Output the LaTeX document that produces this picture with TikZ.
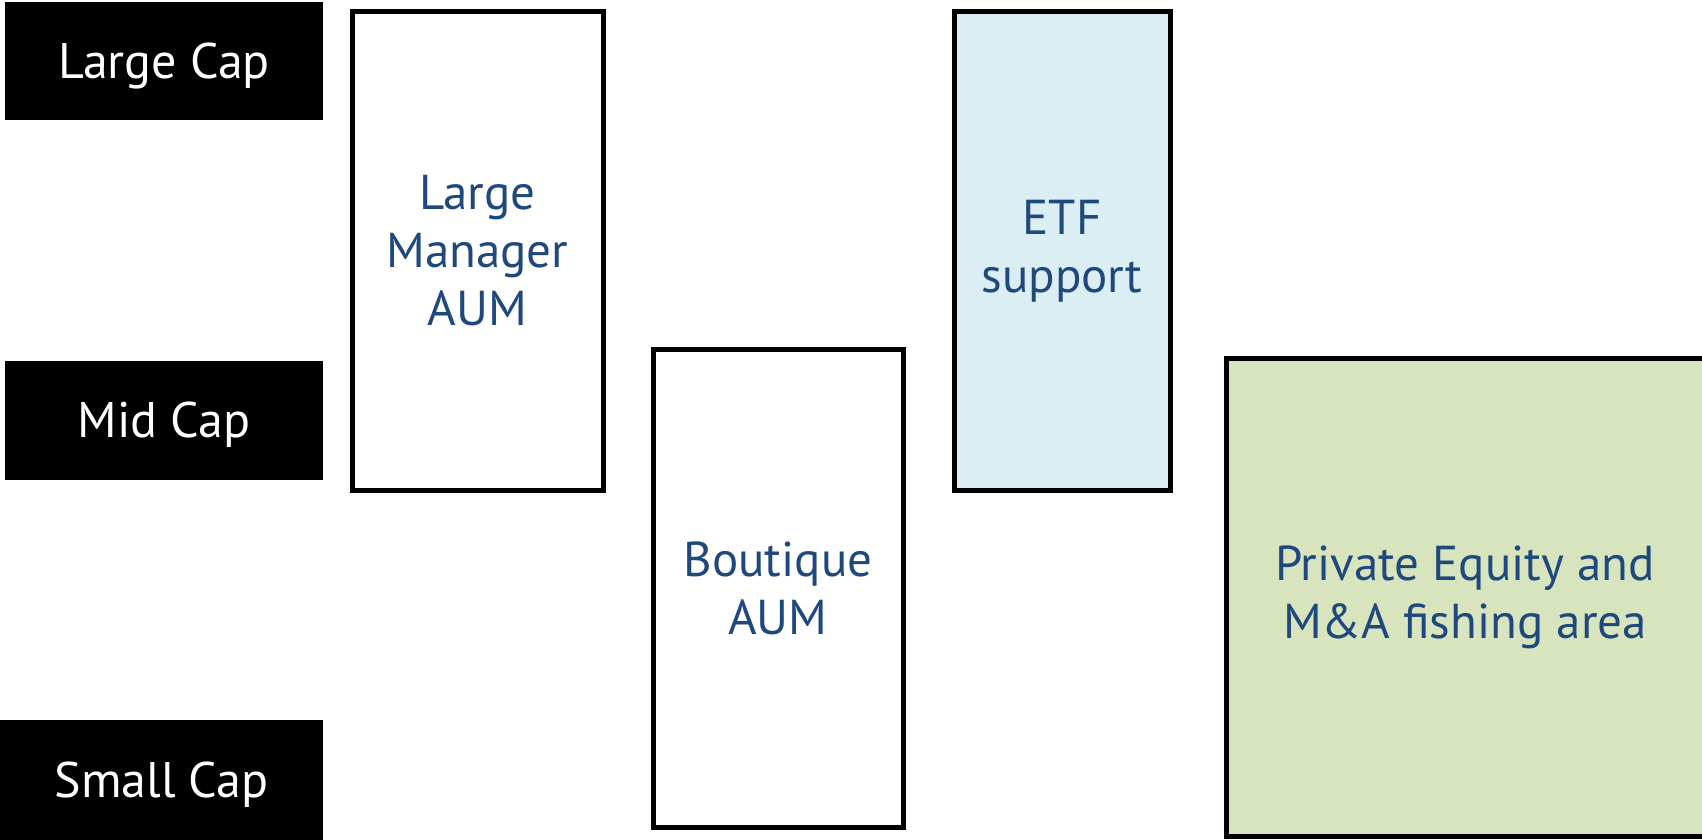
\documentclass[tikz,border=0pt]{standalone}
\usepackage{fontspec}
\setmainfont{PT Sans}
\definecolor{txtblue}{HTML}{1F497D}
\definecolor{etfblue}{HTML}{DAEEF3}
\definecolor{pegreen}{HTML}{D7E4BD}
\begin{document}
\begin{tikzpicture}[x=1pt,y=-1pt,
  capbox/.style={fill=black,text=white,inner sep=0pt,text depth=0pt,font=\fontsize{50}{58}\selectfont},
  segbox/.style={draw=black,line width=5pt,inner sep=0pt,align=center,text=txtblue,
    font=\fontsize{49}{58}\selectfont}]
\useasboundingbox (0,0) rectangle (1702,840);
\fill[white] (0,0) rectangle (1702,840);
\node[capbox,minimum width=318pt,minimum height=118pt] (large) at (164,61) {Large Cap};
\node[capbox,minimum width=318pt,minimum height=119pt] (mid) at (164,420) {Mid Cap};
\node[capbox,minimum width=323pt,minimum height=120pt] (small) at (161.5,780) {Small Cap};
\node[segbox,fill=white,minimum width=251pt,minimum height=478pt] (lm) at (477.5,251) {Large\\Manager\\AUM};
\node[segbox,fill=white,minimum width=250pt,minimum height=478pt] (bq) at (778,588) {Boutique\\AUM};
\node[segbox,fill=etfblue,minimum width=216pt,minimum height=478pt] (etf) at (1062,251) {ETF\\support};
\node[segbox,fill=pegreen,minimum width=478pt,minimum height=478pt] (pe) at (1465,597) {Private Equity and\\M\&A fishing area};
\end{tikzpicture}
\end{document}
